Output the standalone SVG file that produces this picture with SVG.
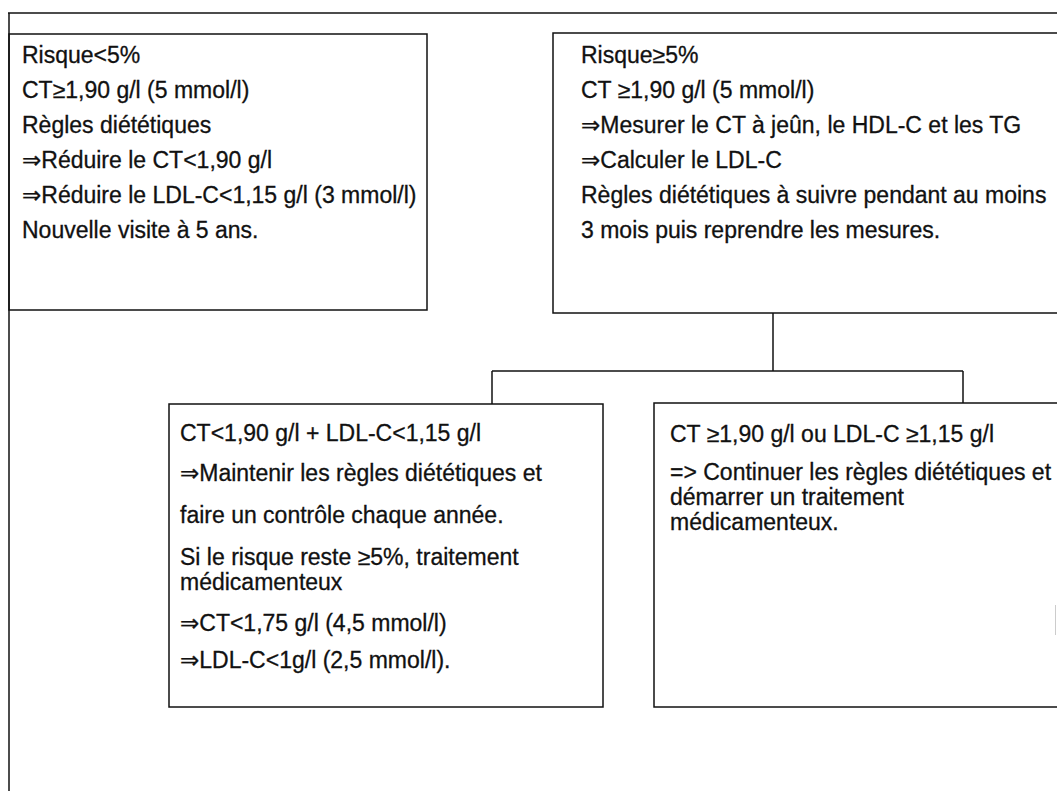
<svg xmlns="http://www.w3.org/2000/svg" width="1057" height="791" viewBox="0 0 1057 791">
<style>
.box{fill:none;stroke:#111;stroke-width:1.5}
.ln{fill:none;stroke:#111;stroke-width:1.5}
text{font-family:"Liberation Sans",Arial,"DejaVu Sans",sans-serif;font-size:23px;fill:#111;stroke:#111;stroke-width:0.3}
</style>
<rect width="1057" height="791" fill="#fff"/>
<g id="frame">
<line class="ln" x1="8" y1="13" x2="1060" y2="13"/>
<line class="ln" x1="9" y1="13" x2="9" y2="791"/>
</g>
<g id="connectors">
<line class="ln" x1="773" y1="313" x2="773" y2="371"/>
<line class="ln" x1="492" y1="371" x2="963" y2="371"/>
<line class="ln" x1="492" y1="371" x2="492" y2="404"/>
<line class="ln" x1="963" y1="371" x2="963" y2="403"/>
</g>
<g id="node-risque-low">
<rect class="box" x="9" y="34" width="418" height="276"/>
<text x="22" y="63">Risque&lt;5%</text>
<text x="22" y="98">CT≥1,90 g/l (5 mmol/l)</text>
<text x="22" y="133">Règles diététiques</text>
<text x="22" y="168">⇒Réduire le CT&lt;1,90 g/l</text>
<text x="22" y="203">⇒Réduire le LDL-C&lt;1,15 g/l (3 mmol/l)</text>
<text x="22" y="238">Nouvelle visite à 5 ans.</text>
</g>
<g id="node-risque-high">
<rect class="box" x="553" y="33" width="510" height="280"/>
<text x="581" y="63">Risque≥5%</text>
<text x="581" y="98">CT ≥1,90 g/l (5 mmol/l)</text>
<text x="581" y="133">⇒Mesurer le CT à jeûn, le HDL-C et les TG</text>
<text x="581" y="168">⇒Calculer le LDL-C</text>
<text x="581" y="203">Règles diététiques à suivre pendant au moins</text>
<text x="581" y="238">3 mois puis reprendre les mesures.</text>
</g>
<g id="node-normal">
<rect class="box" x="169" y="404" width="434" height="303"/>
<text x="180" y="441">CT&lt;1,90 g/l + LDL-C&lt;1,15 g/l</text>
<text x="180" y="481">⇒Maintenir les règles diététiques et</text>
<text x="180" y="523">faire un contrôle chaque année.</text>
<text x="180" y="565">Si le risque reste ≥5%, traitement</text>
<text x="180" y="590">médicamenteux</text>
<text x="180" y="631">⇒CT&lt;1,75 g/l (4,5 mmol/l)</text>
<text x="180" y="668">⇒LDL-C&lt;1g/l (2,5 mmol/l).</text>
</g>
<g id="node-high">
<rect class="box" x="654" y="403" width="410" height="304"/>
<text x="670" y="442">CT ≥1,90 g/l ou LDL-C ≥1,15 g/l</text>
<text x="670" y="480">=&gt; Continuer les règles diététiques et</text>
<text x="670" y="505">démarrer un traitement</text>
<text x="670" y="530">médicamenteux.</text>
</g>
<line x1="1055.5" y1="605" x2="1055.5" y2="635" stroke="#ccc" stroke-width="1"/>
</svg>
